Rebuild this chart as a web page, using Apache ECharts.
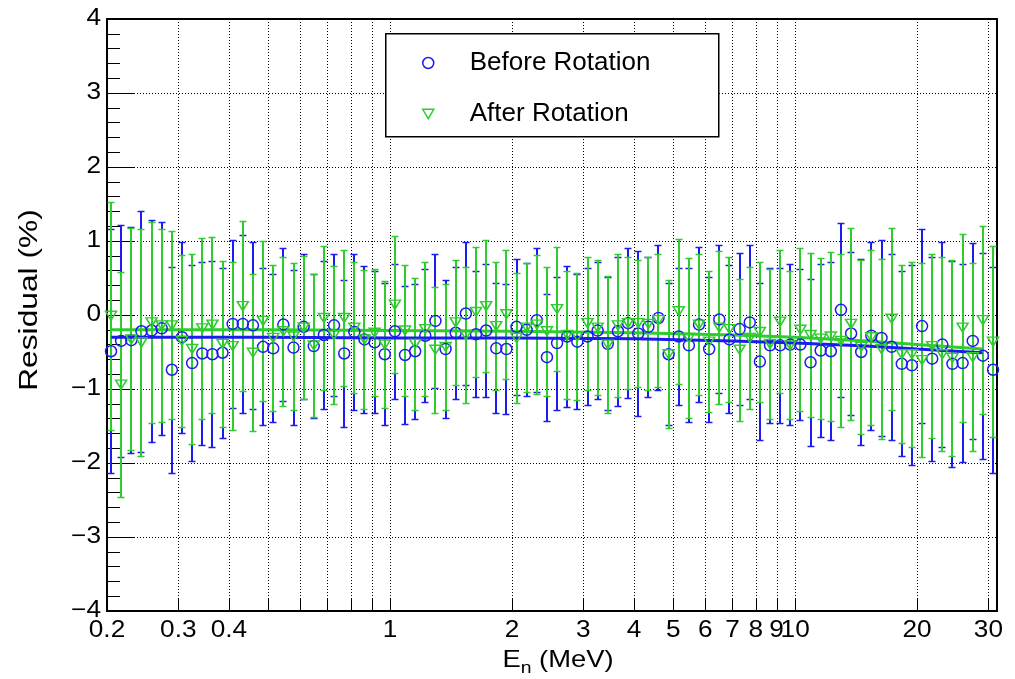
<!DOCTYPE html>
<html><head><meta charset="utf-8">
<script src="https://cdn.jsdelivr.net/npm/echarts@6/dist/echarts.min.js"></script>
<style>html,body{margin:0;padding:0;background:#fff}#c{width:1015px;height:679px}</style>
</head><body><div id="c"></div>
<script>
// ---- data ----
const energies = [0.2046, 0.2167, 0.2296, 0.2433, 0.2577, 0.2730, 0.2892, 0.3063, 0.3245, 0.3438,
  0.3642, 0.3857, 0.4086, 0.4328, 0.4585, 0.4857, 0.5145, 0.5451, 0.5774, 0.6117,
  0.6478, 0.6864, 0.7271, 0.7703, 0.8160, 0.8644, 0.9157, 0.9700, 1.0276, 1.0885,
  1.1530, 1.2214, 1.2939, 1.3706, 1.4519, 1.5381, 1.6293, 1.7260, 1.8284, 1.9369,
  2.0517, 2.1734, 2.3023, 2.4389, 2.5836, 2.7369, 2.8993, 3.0713, 3.2535, 3.4465,
  3.6511, 3.8677, 4.0972, 4.3403, 4.5978, 4.8705, 5.1595, 5.4656, 5.7898, 6.1333,
  6.497, 6.883, 7.291, 7.724, 8.182, 8.667, 9.182, 9.726, 10.303, 10.914,
  11.561, 12.247, 12.974, 13.744, 14.559, 15.423, 16.338, 17.307, 18.334, 19.422,
  20.572, 21.793, 23.086, 24.455, 25.906, 27.443, 29.071, 30.796];
const beforeValues = [-0.49, -0.35, -0.34, -0.22, -0.21, -0.18, -0.74, -0.30, -0.65, -0.52,
  -0.53, -0.51, -0.12, -0.12, -0.14, -0.43, -0.45, -0.13, -0.44, -0.16,
  -0.42, -0.27, -0.14, -0.52, -0.23, -0.33, -0.37, -0.53, -0.22, -0.54,
  -0.49, -0.28, -0.08, -0.46, -0.24, 0.02, -0.26, -0.21, -0.45, -0.46,
  -0.16, -0.20, -0.07, -0.57, -0.38, -0.29, -0.36, -0.29, -0.21, -0.39,
  -0.22, -0.11, -0.25, -0.16, -0.04, -0.53, -0.29, -0.41, -0.13, -0.46,
  -0.06, -0.33, -0.19, -0.10, -0.63, -0.41, -0.41, -0.40, -0.40, -0.64,
  -0.48, -0.49, 0.07, -0.25, -0.50, -0.28, -0.31, -0.43, -0.66, -0.68,
  -0.15, -0.59, -0.40, -0.66, -0.65, -0.35, -0.55, -0.74];
const beforeErrors = [1.65, 1.57, 1.53, 1.63, 1.50, 1.44, 1.39, 1.29, 1.32, 1.24,
  1.26, 1.15, 1.13, 1.20, 1.13, 1.06, 1.00, 1.03, 1.05, 0.98,
  0.97, 1.00, 0.96, 0.99, 1.06, 0.99, 0.96, 0.96, 0.91, 0.93,
  0.91, 0.90, 0.90, 0.93, 0.89, 0.97, 0.85, 0.90, 0.88, 0.88,
  0.92, 0.90, 0.97, 0.86, 0.90, 0.95, 0.91, 0.93, 0.93, 0.90,
  1.01, 1.01, 1.12, 0.95, 0.98, 0.96, 0.93, 1.04, 1.05, 0.98,
  1.00, 1.00, 1.03, 1.04, 1.06, 1.05, 1.05, 1.09, 1.02, 1.13,
  1.17, 1.20, 1.18, 1.10, 1.26, 1.27, 1.33, 1.26, 1.25, 1.35,
  1.31, 1.38, 1.38, 1.39, 1.34, 1.32, 1.39, 1.39];
const afterValues = [-0.01, -0.94, -0.33, -0.37, -0.10, -0.14, -0.14, -0.35, -0.46, -0.18,
  -0.13, -0.39, -0.42, 0.12, -0.51, -0.08, -0.31, -0.22, -0.29, -0.17,
  -0.41, -0.04, -0.27, -0.04, -0.17, -0.33, -0.24, -0.40, 0.14, -0.21,
  -0.39, -0.19, -0.47, -0.43, -0.10, -0.27, 0.04, 0.12, -0.15, 0.01,
  -0.31, -0.17, -0.13, -0.22, 0.08, -0.27, -0.29, -0.11, -0.17, -0.40,
  -0.14, -0.11, -0.11, -0.12, -0.07, -0.53, 0.05, -0.31, -0.13, -0.36,
  -0.17, -0.19, -0.47, -0.31, -0.23, -0.39, -0.09, -0.41, -0.20, -0.27,
  -0.32, -0.29, -0.35, -0.12, -0.43, -0.30, -0.46, -0.05, -0.53, -0.53,
  -0.61, -0.42, -0.53, -0.58, -0.17, -0.57, -0.07, -0.36];
const afterErrors = [1.54, 1.52, 1.50, 1.53, 1.36, 1.30, 1.27, 1.16, 1.28, 1.22,
  1.19, 1.12, 1.13, 1.15, 1.06, 1.08, 0.99, 1.01, 0.99, 0.97,
  0.97, 0.97, 0.93, 0.92, 0.89, 0.94, 0.86, 0.86, 0.93, 0.88,
  0.89, 0.90, 0.85, 0.85, 0.85, 0.92, 0.88, 0.89, 0.86, 0.87,
  0.88, 0.87, 0.94, 0.87, 0.84, 0.87, 0.86, 0.90, 0.91, 0.93,
  0.97, 0.89, 0.86, 0.90, 0.90, 1.00, 0.98, 1.08, 0.95, 0.95,
  1.03, 0.98, 0.96, 0.96, 0.95, 1.01, 0.97, 1.00, 1.10, 1.11,
  1.09, 1.14, 1.17, 1.30, 1.18, 1.18, 1.22, 1.23, 1.20, 1.25,
  1.31, 1.24, 1.31, 1.33, 1.27, 1.27, 1.27, 1.29];
const fitEnergies = [0.205, 0.5, 1, 2, 4, 7, 10, 15, 20, 29];
const beforeFit = [-0.30, -0.30, -0.31, -0.31, -0.32, -0.35, -0.38, -0.42, -0.46, -0.51];
const afterFit = [-0.20, -0.20, -0.21, -0.22, -0.24, -0.27, -0.30, -0.35, -0.40, -0.46];
const xTickValues = [0.2, 0.3, 0.4, 0.5, 0.6, 0.7, 0.8, 0.9, 1, 2, 3, 4, 5, 6, 7, 8, 9, 10, 20, 30];
const xTickLabels = ['0.2', '0.3', '0.4', '', '', '', '', '', '1', '2', '3', '4', '5', '6', '7', '8', '9', '10', '20', '30'];
const yTickValues = [-4, -3, -2, -1, 0, 1, 2, 3, 4];
const yTickLabels = ['\u22124', '\u22123', '\u22122', '\u22121', '0', '1', '2', '3', '4'];
const seriesNames = ['Before Rotation', 'After Rotation'];
const xTitleParts = ['E', 'n', ' (MeV)'];
const yTitle = 'Residual (%)';

// ---- styling ----
const X_MIN = 0.2, X_MAX = 31.5, Y_MIN = -4, Y_MAX = 4;
const BLUE = '#1c1cf0', GREEN = '#2ecc2e';
const FONT = '"Liberation Sans", Arial, Helvetica, sans-serif';
const SX = 1.14; // horizontal stretch of the reference's text
const TRI = 'path://M0,0L10,0L5,8.5Z';

const chart = echarts.init(document.getElementById('c'), null, {renderer: 'canvas'});

function errBarRenderer(color) {
  return function (params, api) {
    const x = api.value(0), lo = api.value(1), hi = api.value(2);
    const p1 = api.coord([x, lo]), p2 = api.coord([x, hi]);
    const px = Math.round(p1[0]);
    const y1 = Math.round(p1[1]) + 0.5, y2 = Math.round(p2[1]) + 0.5;
    const w = 3.5;
    const st = {stroke: color, lineWidth: 2};
    const st2 = {stroke: color, lineWidth: 1.5};
    return {type: 'group', children: [
      {type: 'line', shape: {x1: px, y1: y1, x2: px, y2: y2}, style: st},
      {type: 'line', shape: {x1: px - w, y1: y1, x2: px + w, y2: y1}, style: st2},
      {type: 'line', shape: {x1: px - w, y1: y2, x2: px + w, y2: y2}, style: st2}
    ]};
  };
}

function xTickRenderer(params, api) {
  const v = api.value(0);
  const lab = xTickLabels[params.dataIndex];
  const b = api.coord([v, Y_MIN]), t = api.coord([v, Y_MAX]);
  const px = Math.round(b[0]) + 0.5;
  const ch = [
    {type: 'line', shape: {x1: px, y1: b[1], x2: px, y2: t[1]}, style: {stroke: '#000', lineWidth: 1, lineDash: [1, 2]}},
    {type: 'line', shape: {x1: px, y1: b[1], x2: px, y2: b[1] - 12}, style: {stroke: '#000', lineWidth: 1}}
  ];
  if (lab) ch.push({type: 'text', x: b[0], y: b[1] + 20, scaleX: SX,
    style: {text: lab, fontSize: 23, fontFamily: FONT, fill: '#000', align: 'center', verticalAlign: 'middle'}});
  return {type: 'group', children: ch};
}

function yLabelRenderer(params, api) {
  const v = api.value(1);
  const p = api.coord([X_MIN, v]);
  return {type: 'text', x: p[0] - 6, y: p[1], scaleX: SX,
    style: {text: yTickLabels[params.dataIndex], fontSize: 23, fontFamily: FONT, fill: '#000', align: 'right', verticalAlign: 'middle'}};
}

// x title pieces measured for layout
const TF = 24, TFS = 17;
const cv = document.createElement('canvas').getContext('2d');
function tw(t, s) { cv.font = s + 'px ' + FONT; return cv.measureText(t).width * SX; }
const wE = tw(xTitleParts[0], TF), wN = tw(xTitleParts[1], TFS), wM = tw(xTitleParts[2], TF);
const xTitleX0 = 558 - (wE + wN + wM) / 2;

const option = {
  animation: false,
  backgroundColor: '#fff',
  grid: {left: 107, right: 18, top: 19, bottom: 68},
  xAxis: [
    {type: 'log', logBase: 10, min: X_MIN, max: X_MAX,
      axisLine: {show: true, onZero: false, lineStyle: {color: '#000', width: 2}},
      axisTick: {show: false}, axisLabel: {show: false}, splitLine: {show: false}, minorTick: {show: false}},
    {type: 'log', logBase: 10, min: X_MIN, max: X_MAX, position: 'top',
      axisLine: {show: true, onZero: false, lineStyle: {color: '#000', width: 2}},
      axisTick: {show: false}, axisLabel: {show: false}, splitLine: {show: false}}
  ],
  yAxis: [
    {type: 'value', min: Y_MIN, max: Y_MAX, interval: 1,
      axisLine: {show: true, onZero: false, lineStyle: {color: '#000', width: 2}},
      axisTick: {show: true, inside: true, length: 27, lineStyle: {color: '#000', width: 1}},
      minorTick: {show: true, splitNumber: 5, length: 13, lineStyle: {color: '#000', width: 1}},
      axisLabel: {show: false},
      splitLine: {show: true, lineStyle: {color: '#000', width: 1, type: [1, 2]}}},
    {type: 'value', min: Y_MIN, max: Y_MAX, position: 'right',
      axisLine: {show: true, onZero: false, lineStyle: {color: '#000', width: 2}},
      axisTick: {show: false}, axisLabel: {show: false}, splitLine: {show: false}}
  ],
  legend: {
    orient: 'vertical', left: 417, top: 45, itemWidth: 11, itemHeight: 11, itemGap: 25,
    selectedMode: false, z: 5,
    textStyle: {fontSize: 26, fontFamily: FONT, color: '#000', padding: [0, 0, 0, 31]},
    data: [
      {name: seriesNames[0], icon: 'circle', itemStyle: {color: 'rgba(0,0,0,0)', borderColor: BLUE, borderWidth: 1.5}},
      {name: seriesNames[1], icon: TRI, itemStyle: {color: 'rgba(0,0,0,0)', borderColor: GREEN, borderWidth: 1.5}}
    ]
  },
  graphic: [
    {type: 'rect', left: 385, top: 33, z: 4, shape: {width: 333, height: 103},
      style: {fill: '#fff', stroke: '#000', lineWidth: 1.5}},
    {type: 'text', x: 30, y: 300, rotation: Math.PI / 2, scaleX: 1.22,
      style: {text: yTitle, fontSize: 26, fontFamily: FONT, fill: '#000', align: 'center', verticalAlign: 'middle'}},
    {type: 'text', x: xTitleX0, y: 660, scaleX: SX,
      style: {text: xTitleParts[0], fontSize: TF, fontFamily: FONT, fill: '#000', align: 'left', verticalAlign: 'middle'}},
    {type: 'text', x: xTitleX0 + wE, y: 668, scaleX: SX,
      style: {text: xTitleParts[1], fontSize: TFS, fontFamily: FONT, fill: '#000', align: 'left', verticalAlign: 'middle'}},
    {type: 'text', x: xTitleX0 + wE + wN, y: 660, scaleX: SX,
      style: {text: xTitleParts[2], fontSize: TF, fontFamily: FONT, fill: '#000', align: 'left', verticalAlign: 'middle'}}
  ],
  series: [
    {type: 'custom', name: 'xgrid', silent: true, z: 1, renderItem: xTickRenderer,
      data: xTickValues.map(v => [v, 0]), encode: {x: 0, y: 1}},
    {type: 'custom', name: 'ylabels', silent: true, z: 1, renderItem: yLabelRenderer,
      data: yTickValues.map(v => [X_MIN, v]), encode: {x: 0, y: 1}},
    {type: 'custom', name: 'beforeErr', silent: true, z: 2, renderItem: errBarRenderer(BLUE),
      data: energies.map((e, i) => [e, beforeValues[i] - beforeErrors[i], beforeValues[i] + beforeErrors[i]]),
      encode: {x: 0, y: [1, 2]}},
    {type: 'scatter', name: seriesNames[0], z: 3, symbol: 'circle', symbolSize: 11,
      itemStyle: {color: 'rgba(0,0,0,0)', borderColor: BLUE, borderWidth: 1.5, opacity: 1},
      data: energies.map((e, i) => [e, beforeValues[i]])},
    {type: 'custom', name: 'afterErr', silent: true, z: 3, renderItem: errBarRenderer(GREEN),
      data: energies.map((e, i) => [e, afterValues[i] - afterErrors[i], afterValues[i] + afterErrors[i]]),
      encode: {x: 0, y: [1, 2]}},
    {type: 'scatter', name: seriesNames[1], z: 3, symbol: TRI, symbolSize: [11, 9],
      itemStyle: {color: 'rgba(0,0,0,0)', borderColor: GREEN, borderWidth: 1.5, opacity: 1},
      data: energies.map((e, i) => [e, afterValues[i]])},
    {type: 'line', name: 'beforeFit', z: 3, showSymbol: false, symbol: 'none', silent: true,
      lineStyle: {color: BLUE, width: 3}, data: fitEnergies.map((e, i) => [e, beforeFit[i]])},
    {type: 'line', name: 'afterFit', z: 3, showSymbol: false, symbol: 'none', silent: true,
      lineStyle: {color: GREEN, width: 3}, data: fitEnergies.map((e, i) => [e, afterFit[i]])}
  ]
};
chart.setOption(option);
</script>
</body></html>
